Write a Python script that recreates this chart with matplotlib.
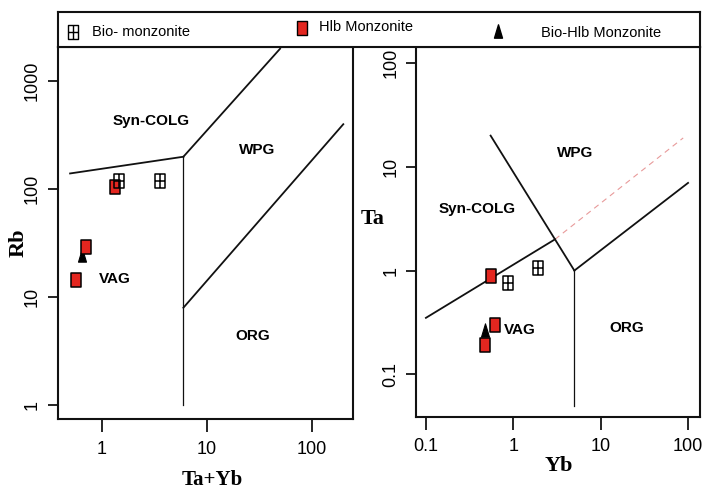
import matplotlib
matplotlib.use("Agg")
import matplotlib.pyplot as plt
from matplotlib.path import Path

# ---------------- data ----------------
# Left panel: Rb vs Ta+Yb
left_bio_x = [1.47, 3.6]
left_bio_y = [119, 120]
left_hlb_x = [1.35, 0.71, 0.57]
left_hlb_y = [105, 29, 14.4]
left_bh_x = [0.65]
left_bh_y = [24.5]

# Right panel: Ta vs Yb
right_bio_x = [0.86, 1.9]
right_bio_y = [0.76, 1.05]
right_hlb_x = [0.555, 0.61, 0.48]
right_hlb_y = [0.88, 0.30, 0.19]
right_bh_x = [0.48]
right_bh_y = [0.27]

# Discrimination boundaries (Pearce et al. 1984)
L_b1_x, L_b1_y = [0.5, 6], [140, 200]
L_b2_x, L_b2_y = [6, 50], [200, 2000]
L_b3_x, L_b3_y = [6, 6], [1, 200]
L_b4_x, L_b4_y = [6, 200], [8, 400]

R_b1_x, R_b1_y = [0.1, 3], [0.35, 2]
R_b2_x, R_b2_y = [0.55, 3, 5], [20, 2, 1]
R_b3_x, R_b3_y = [5, 5], [0.05, 1]
R_b4_x, R_b4_y = [5, 100], [1, 7]
R_dash_x, R_dash_y = [3, 88], [2, 19]

left_xticks = [1, 10, 100]
left_yticks = [1, 10, 100, 1000]
right_xticks = [0.1, 1, 10, 100]
right_yticks = [0.1, 1, 10, 100]

left_regions = [("Syn-COLG", 2.95, 427), ("WPG", 30, 230), ("VAG", 1.32, 14.8), ("ORG", 27.4, 4.4)]
right_regions = [("Syn-COLG", 0.385, 3.9), ("WPG", 5.1, 13.6), ("VAG", 1.2, 0.27), ("ORG", 20, 0.28)]

legend_labels = ["Bio- monzonite", "Hlb Monzonite", "Bio-Hlb Monzonite"]

# ---------------- styles ----------------
SANS = ["Liberation Sans", "DejaVu Sans"]
SERIF = ["Liberation Serif", "DejaVu Serif"]
RED = "#e3261f"

# markers
w = 0.68
box_cross = Path([(-w, -1), (w, -1), (w, 1), (-w, 1), (-w, -1),
                  (0, -1), (0, 1), (-w, 0), (w, 0)],
                 [Path.MOVETO, Path.LINETO, Path.LINETO, Path.LINETO, Path.CLOSEPOLY,
                  Path.MOVETO, Path.LINETO, Path.MOVETO, Path.LINETO])
box = Path([(-w, -1), (w, -1), (w, 1), (-w, 1), (-w, -1)],
           [Path.MOVETO, Path.LINETO, Path.LINETO, Path.LINETO, Path.CLOSEPOLY])
tw = 0.6
tri = Path([(-tw, -1), (tw, -1), (0, 1), (-tw, -1)],
           [Path.MOVETO, Path.LINETO, Path.LINETO, Path.CLOSEPOLY])

MS = 9.6

def plot_points(ax, hx, hy, bx, by, tx, ty):
    ax.plot(hx, hy, linestyle="none", marker=box, markersize=MS,
            markerfacecolor=RED, markeredgecolor="black", markeredgewidth=1.1, zorder=5)
    ax.plot(bx, by, linestyle="none", marker=box_cross, markersize=MS,
            markerfacecolor="none", markeredgecolor="black", markeredgewidth=1.1, zorder=6)
    ax.plot(tx, ty, linestyle="none", marker=tri, markersize=MS,
            markerfacecolor="black", markeredgecolor="black", markeredgewidth=0.8, zorder=4)

def style_axes(ax, xticks, yticks):
    ax.set_xscale("log")
    ax.set_yscale("log")
    ax.minorticks_off()
    ax.set_xticks(xticks)
    ax.set_yticks(yticks)
    ax.set_xticklabels([("%g" % v) for v in xticks], fontfamily=SANS, fontsize=13)
    ax.set_yticklabels([("%g" % v) for v in yticks], fontfamily=SANS, fontsize=13,
                       rotation=90, va="center")
    ax.tick_params(axis="x", direction="out", length=9.5, width=1.2, pad=6, colors="black")
    ax.tick_params(axis="y", direction="out", length=7, width=1.2, pad=5, colors="black")
    for s in ax.spines.values():
        s.set_linewidth(1.5)
        s.set_color("#111111")

fig = plt.figure(figsize=(7.07, 4.9), dpi=100)

# ---------------- left panel ----------------
axL = fig.add_axes([0.0816, 0.1449, 0.4181, 0.7592])
style_axes(axL, left_xticks, left_yticks)
axL.set_xlim(0.381, 249)
axL.set_ylim(0.746, 2075)
for xs, ys in [(L_b1_x, L_b1_y), (L_b2_x, L_b2_y), (L_b4_x, L_b4_y)]:
    axL.plot(xs, ys, color="#111111", lw=1.3, zorder=2)
axL.plot(L_b3_x, L_b3_y, color="#111111", lw=0.9, zorder=2)
for name, x, y in left_regions:
    axL.text(x, y, name, ha="center", va="center", fontfamily=SANS,
             fontweight="bold", fontsize=11)
plot_points(axL, left_hlb_x, left_hlb_y, left_bio_x, left_bio_y, left_bh_x, left_bh_y)

# ---------------- right panel ----------------
axR = fig.add_axes([0.5884, 0.1496, 0.4017, 0.7551])
style_axes(axR, right_xticks, right_yticks)
axR.set_xlim(0.077, 137)
axR.set_ylim(0.039, 144)
for xs, ys in [(R_b1_x, R_b1_y), (R_b2_x, R_b2_y), (R_b4_x, R_b4_y)]:
    axR.plot(xs, ys, color="#111111", lw=1.3, zorder=2)
axR.plot(R_b3_x, R_b3_y, color="#111111", lw=0.9, zorder=2)
axR.plot(R_dash_x, R_dash_y, color="#e89a9a", lw=0.8, dashes=(5, 4), zorder=1)
for name, x, y in right_regions:
    axR.text(x, y, name, ha="center", va="center", fontfamily=SANS,
             fontweight="bold", fontsize=11)
plot_points(axR, right_hlb_x, right_hlb_y, right_bio_x, right_bio_y, right_bh_x, right_bh_y)

# ---------------- axis titles ----------------
def fxy(px, py):
    return px / 707.0, 1 - py / 490.0

fig.text(*fxy(18.3, 242.5), "Rb", rotation=90, ha="center", va="center",
         fontfamily=SERIF, fontweight="bold", fontsize=16)
fig.text(*fxy(212.5, 480), "Ta+Yb", ha="center", va="center",
         fontfamily=SERIF, fontweight="bold", fontsize=15)
fig.text(*fxy(372.5, 219), "Ta", ha="center", va="center",
         fontfamily=SERIF, fontweight="bold", fontsize=16)
fig.text(*fxy(559, 466), "Yb", ha="center", va="center",
         fontfamily=SERIF, fontweight="bold", fontsize=16)

# ---------------- legend box ----------------
axLeg = fig.add_axes([0.0816, 0.9041, 0.9085, 0.072])
axLeg.set_xlim(0, 1)
axLeg.set_ylim(0, 1)
axLeg.set_xticks([])
axLeg.set_yticks([])
for s in axLeg.spines.values():
    s.set_linewidth(1.5)
    s.set_color("#111111")
axLeg.plot([0.0234], [0.433], linestyle="none", marker=box_cross, markersize=MS,
           markerfacecolor="none", markeredgecolor="black", markeredgewidth=1.0)
axLeg.plot([0.380], [0.53], linestyle="none", marker=box, markersize=MS,
           markerfacecolor=RED, markeredgecolor="black", markeredgewidth=1.0)
axLeg.plot([0.6855], [0.453], linestyle="none", marker=tri, markersize=MS,
           markerfacecolor="black", markeredgecolor="black")
axLeg.text(0.0529, 0.43, legend_labels[0], ha="left", va="center", fontfamily=SANS, fontsize=10.5)
axLeg.text(0.4068, 0.575, legend_labels[1], ha="left", va="center", fontfamily=SANS, fontsize=10.5)
axLeg.text(0.752, 0.405, legend_labels[2], ha="left", va="center", fontfamily=SANS, fontsize=10.5)

fig.savefig("out.png", dpi=100)
